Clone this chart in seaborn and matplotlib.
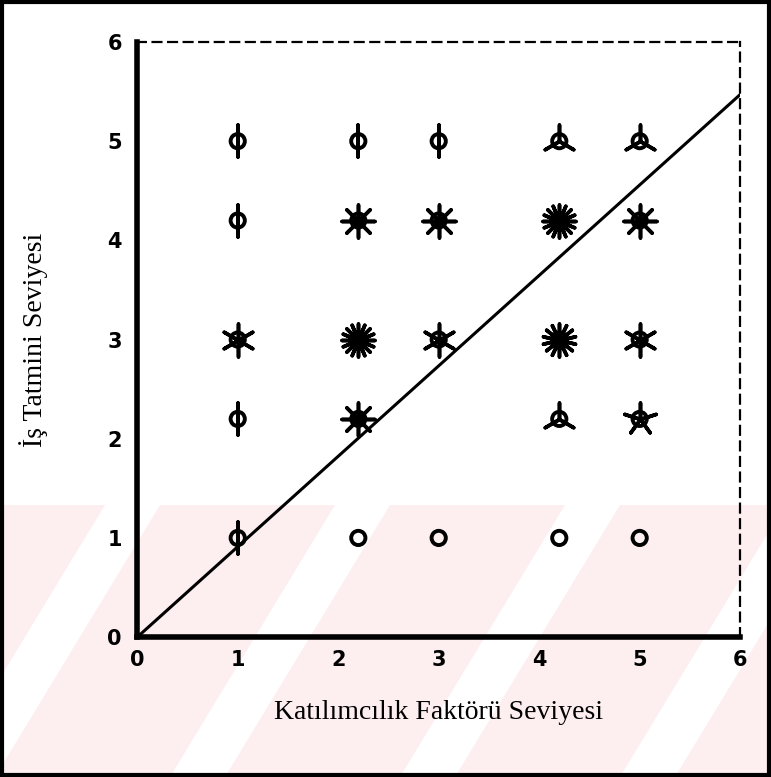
import matplotlib
matplotlib.use("Agg")
import matplotlib.pyplot as plt
import matplotlib.patches as mpatches
import seaborn as sns
import pandas as pd

# Data: sunflower plot (x, y, frequency = number of petals)
x_vals = [1, 2.2, 3, 4.2, 5,
          1, 2.2, 3, 4.2, 5,
          1, 2.2, 3, 4.2, 5,
          1, 2.2, 4.2, 5,
          1, 2.2, 3, 4.2, 5]
y_vals = [5, 5, 5, 5, 5,
          4.2, 4.2, 4.2, 4.2, 4.2,
          3, 3, 3, 3, 3,
          2.2, 2.2, 2.2, 2.2,
          1, 1, 1, 1, 1]
counts = [2, 2, 2, 3, 3,
          2, 8, 8, 16, 8,
          6, 16, 6, 14, 6,
          2, 8, 3, 5,
          2, 1, 1, 1, 1]
line_x = [0, 6]
line_y = [0, 5.47]
ticks = [0, 1, 2, 3, 4, 5, 6]
xlabel = "Katılımcılık Faktörü Seviyesi"
ylabel = "İş Tatmini Seviyesi"

df = pd.DataFrame({"x": x_vals, "y": y_vals, "n": counts})

sns.set_theme(style="white")
plt.rcParams["font.family"] = ["DejaVu Sans"]
plt.rcParams["text.color"] = "black"
plt.rcParams["axes.labelcolor"] = "black"
plt.rcParams["xtick.color"] = "black"
plt.rcParams["ytick.color"] = "black"

W, H = 771, 777
fig = plt.figure(figsize=(W / 100, H / 100), dpi=100)

# faint watermark-like background stripes (decoration)
pink = "#fdeef0"
fig.patches.append(mpatches.Rectangle((0, 0), 1, (H - 505) / H, transform=fig.transFigure,
                                      facecolor=pink, edgecolor="none", zorder=-2))
def stripe(xb, width=55, top=505, dx=165):
    pts = [(xb, H), (xb + width, H), (xb + width + dx, top), (xb + dx, top)]
    return mpatches.Polygon([(px / W, 1 - py / H) for px, py in pts], closed=True,
                            transform=fig.transFigure, facecolor="white",
                            edgecolor="none", zorder=-1)
for xb in [-60, 170, 400, 620]:
    fig.patches.append(stripe(xb))

ax = fig.add_axes([0.178, 0.180, 0.782, 0.766])
ax.set_facecolor("none")
ax.set_zorder(1)

sns.lineplot(x=line_x, y=line_y, ax=ax, color="black", linewidth=2.2, zorder=2)

# petals
for n, grp in df[df["n"] > 1].groupby("n"):
    sns.scatterplot(data=grp, x="x", y="y", ax=ax, marker=(int(n), 2, 0),
                    s=560, color="black", linewidth=2.6, zorder=3)

# circles (centres)
sns.scatterplot(data=df, x="x", y="y", ax=ax, marker="o", s=105,
                facecolor="none", edgecolor="black", linewidth=2.8, zorder=4)

ax.set_xlim(0, 6)
ax.set_ylim(0, 6)
ax.set_xticks(ticks)
ax.set_yticks(ticks)
tick_font = {"family": ["DejaVu Sans"], "weight": "bold", "size": 15}
ax.set_xticklabels([str(t) for t in ticks], fontdict=tick_font)
ax.set_yticklabels([str(t) for t in ticks], fontdict=tick_font)
ax.tick_params(axis="both", which="both", direction="out", length=6, width=4,
               color="black", pad=3)
ax.tick_params(axis="y", pad=5)

for side in ["left", "bottom"]:
    ax.spines[side].set_linewidth(4)
    ax.spines[side].set_color("black")
for side in ["top", "right"]:
    ax.spines[side].set_linewidth(1.6)
    ax.spines[side].set_color("black")
    ax.spines[side].set_linestyle((0, (4, 3)))

lab_font = {"family": ["Liberation Serif", "DejaVu Serif"], "size": 20}
ax.set_xlabel(xlabel, fontdict=lab_font, labelpad=22)
ax.set_ylabel(ylabel, fontdict=lab_font, labelpad=43)
ax.grid(False)

fig.patches.append(mpatches.Rectangle((0.002, 0.002), 0.996, 0.996, transform=fig.transFigure,
                                      fill=False, edgecolor="black", linewidth=3, zorder=5))

fig.savefig("out.png", dpi=100)
